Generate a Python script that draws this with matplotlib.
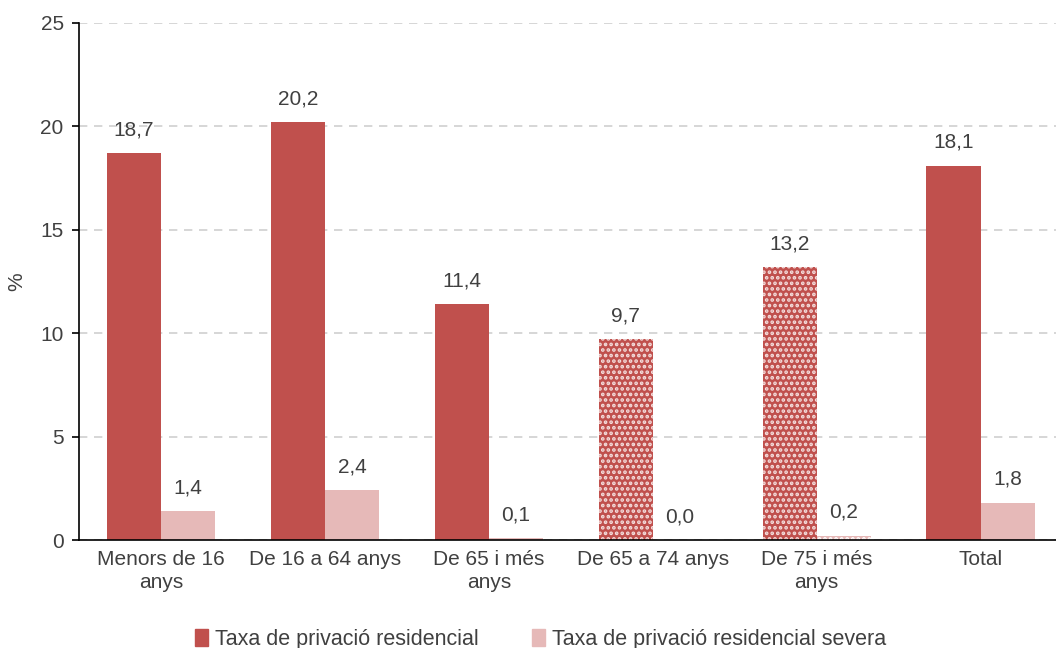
import matplotlib
matplotlib.use("Agg")
from matplotlib import pyplot as plt
from matplotlib.patches import Patch
import numpy as np

categories = ["Menors de 16\nanys", "De 16 a 64 anys", "De 65 i més\nanys",
              "De 65 a 74 anys", "De 75 i més\nanys", "Total"]
taxa = [18.7, 20.2, 11.4, 9.7, 13.2, 18.1]
taxa_severa = [1.4, 2.4, 0.1, 0.0, 0.2, 1.8]
hatched = [False, False, False, True, True, False]

RED = "#C0504D"
PINK = "#E6B9B8"
TXT = "#404040"

plt.rcParams['font.family'] = ['Liberation Sans', 'DejaVu Sans']
plt.rcParams['hatch.linewidth'] = 1.8

fig = plt.figure(figsize=(10.56, 6.48), dpi=100)
ax = fig.add_axes([79 / 1056, 1 - 540 / 648, (1056 - 79) / 1056, (540 - 23) / 648])

x = np.arange(len(categories))
w = 0.33
for i in range(len(categories)):
    if hatched[i]:
        ax.bar(x[i] - w / 2, taxa[i], w, color=RED, edgecolor="#F4DEDD", linewidth=0, hatch="...")
        ax.bar(x[i] + w / 2, taxa_severa[i], w, color=PINK, edgecolor="#FFFFFF", linewidth=0, hatch="...")
    else:
        ax.bar(x[i] - w / 2, taxa[i], w, color=RED, linewidth=0)
        ax.bar(x[i] + w / 2, taxa_severa[i], w, color=PINK, linewidth=0)
    ax.annotate(f"{taxa[i]:.1f}".replace(".", ","), (x[i] - w / 2, taxa[i]), xytext=(0, 10),
                textcoords="offset points", ha="center", va="bottom", fontsize=15, color=TXT)
    ax.annotate(f"{taxa_severa[i]:.1f}".replace(".", ","), (x[i] + w / 2, taxa_severa[i]), xytext=(0, 10),
                textcoords="offset points", ha="center", va="bottom", fontsize=15, color=TXT)

ax.set_ylim(0, 25)
ax.set_xlim(-0.5, 5.5 - 0.04)
ax.set_yticks(range(0, 26, 5))
ax.set_xticks(x)
ax.set_xticklabels(categories, fontsize=15, color=TXT, linespacing=1.3)
ax.tick_params(axis="y", labelsize=15, labelcolor=TXT, length=5, width=1.2, pad=6)
ax.tick_params(axis="x", length=0, pad=7)
ax.set_ylabel("%", fontsize=15, color=TXT, labelpad=10)
ax.yaxis.grid(True, linestyle=(0, (5, 4)), color="#D0D0D0", linewidth=1.2)
ax.set_axisbelow(True)
for s in ["top", "right"]:
    ax.spines[s].set_visible(False)
ax.spines["left"].set_linewidth(1.2)
ax.spines["bottom"].set_linewidth(1.2)

handles = [Patch(color=RED), Patch(color=PINK)]
fig.legend(handles, ["Taxa de privació residencial", "Taxa de privació residencial severa"],
           loc="lower center", bbox_to_anchor=(0.512, -0.033), ncol=2, frameon=False,
           fontsize=15.5, handlelength=0.6, handleheight=0.8, handletextpad=0.3,
           columnspacing=2.5, labelcolor=TXT)

fig.savefig("out.png", dpi=100)
